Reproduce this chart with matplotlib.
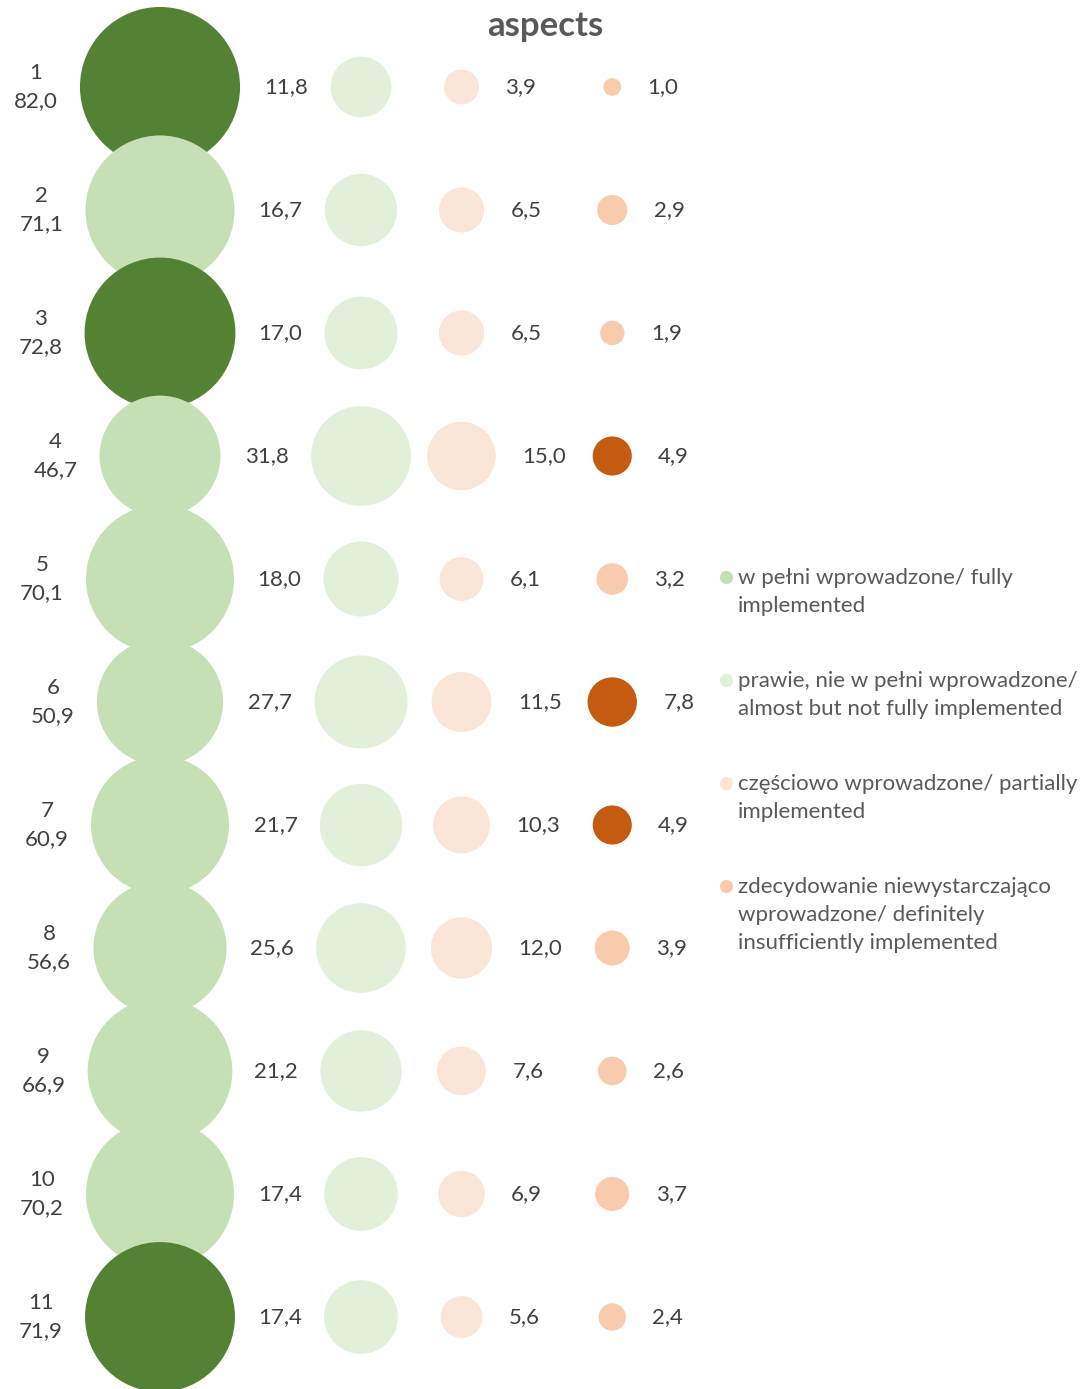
import numpy as np
import matplotlib
matplotlib.use("Agg")
import matplotlib.pyplot as plt

# data (percent), one list per answer category
aspects = [1, 2, 3, 4, 5, 6, 7, 8, 9, 10, 11]
fully = [82.0, 71.1, 72.8, 46.7, 70.1, 50.9, 60.9, 56.6, 66.9, 70.2, 71.9]
almost = [11.8, 16.7, 17.0, 31.8, 18.0, 27.7, 21.7, 25.6, 21.2, 17.4, 17.4]
partially = [3.9, 6.5, 6.5, 15.0, 6.1, 11.5, 10.3, 12.0, 7.6, 6.9, 5.6]
insufficient = [1.0, 2.9, 1.9, 4.9, 3.2, 7.8, 4.9, 3.9, 2.6, 3.7, 2.4]
highlight_fully = [1, 3, 11]
highlight_insufficient = [4, 6, 7]

legend_labels = [
    "w pełni wprowadzone/ fully\nimplemented",
    "prawie, nie w pełni wprowadzone/\nalmost but not fully implemented",
    "częściowo wprowadzone/ partially\nimplemented",
    "zdecydowanie niewystarczająco\nwprowadzone/ definitely\ninsufficiently implemented",
]

# styling
base_colors = ["#C5E0B4", "#E2F0D9", "#FBE5D6", "#F8CBAD"]
dark_green = "#548235"
dark_orange = "#C55A11"
label_color = "#404040"
legend_color = "#595959"
col_x = [1.0, 2.0, 2.5, 3.25]
size_k = 162.0  # marker area (pt^2) per percent
fs = 16
ls = 1.5

plt.rcParams["font.family"] = ["Lato", "DejaVu Sans"]

W, H = 1082, 1389
fig = plt.figure(figsize=(W / 100, H / 100), dpi=100)
ax = fig.add_axes([0, 0, 1, 1])
ax.set_xlim(1 - 160 / 201, 1 + (W - 160) / 201)
ax.set_ylim(11 + (H - 1317) / 123, 1 - 87 / 123)
ax.axis("off")

series = [fully, almost, partially, insufficient]
for j, vals in enumerate(series):
    vals = np.array(vals)
    cols = [base_colors[j]] * len(vals)
    if j == 0:
        cols = [dark_green if a in highlight_fully else c for a, c in zip(aspects, cols)]
    if j == 3:
        cols = [dark_orange if a in highlight_insufficient else c for a, c in zip(aspects, cols)]
    sizes = size_k * vals
    ax.scatter([col_x[j]] * len(vals), aspects, s=sizes, c=cols,
               edgecolors="none", zorder=2)
    for a, v, s in zip(aspects, vals, sizes):
        r = 0.5 * np.sqrt(s)
        txt = f"{v:.1f}".replace(".", ",")
        if j == 0:
            ax.annotate(f"{a}\n{txt}", (col_x[j], a), xytext=(-(r + 16), 0),
                        textcoords="offset points", ha="right", va="center",
                        multialignment="center", fontsize=fs, color=label_color,
                        linespacing=ls)
        elif j == 1:
            ax.annotate(txt, (col_x[j], a), xytext=(-(r + 16), 0),
                        textcoords="offset points", ha="right", va="center",
                        fontsize=fs, color=label_color)
        else:
            ax.annotate(txt, (col_x[j], a), xytext=(r + 19, 0),
                        textcoords="offset points", ha="left", va="center",
                        fontsize=fs, color=label_color)

# title
fig.text(545 / W, 1 - 26 / H, "aspects", ha="center", va="center",
         fontsize=25, fontweight="bold", color=legend_color)

# legend
leg_y = [577, 680, 783, 886]
for col, lab, y in zip(base_colors, legend_labels, leg_y):
    fig.lines.append(plt.Line2D([726 / W], [1 - y / H], marker="o", markersize=9.5,
                                color=col, markeredgewidth=0, linestyle="none",
                                transform=fig.transFigure, figure=fig))
    fig.text(738 / W, 1 - (y - 9) / H, lab, ha="left", va="top",
             fontsize=fs, color=legend_color, linespacing=ls)

fig.savefig("out.png", dpi=100)
